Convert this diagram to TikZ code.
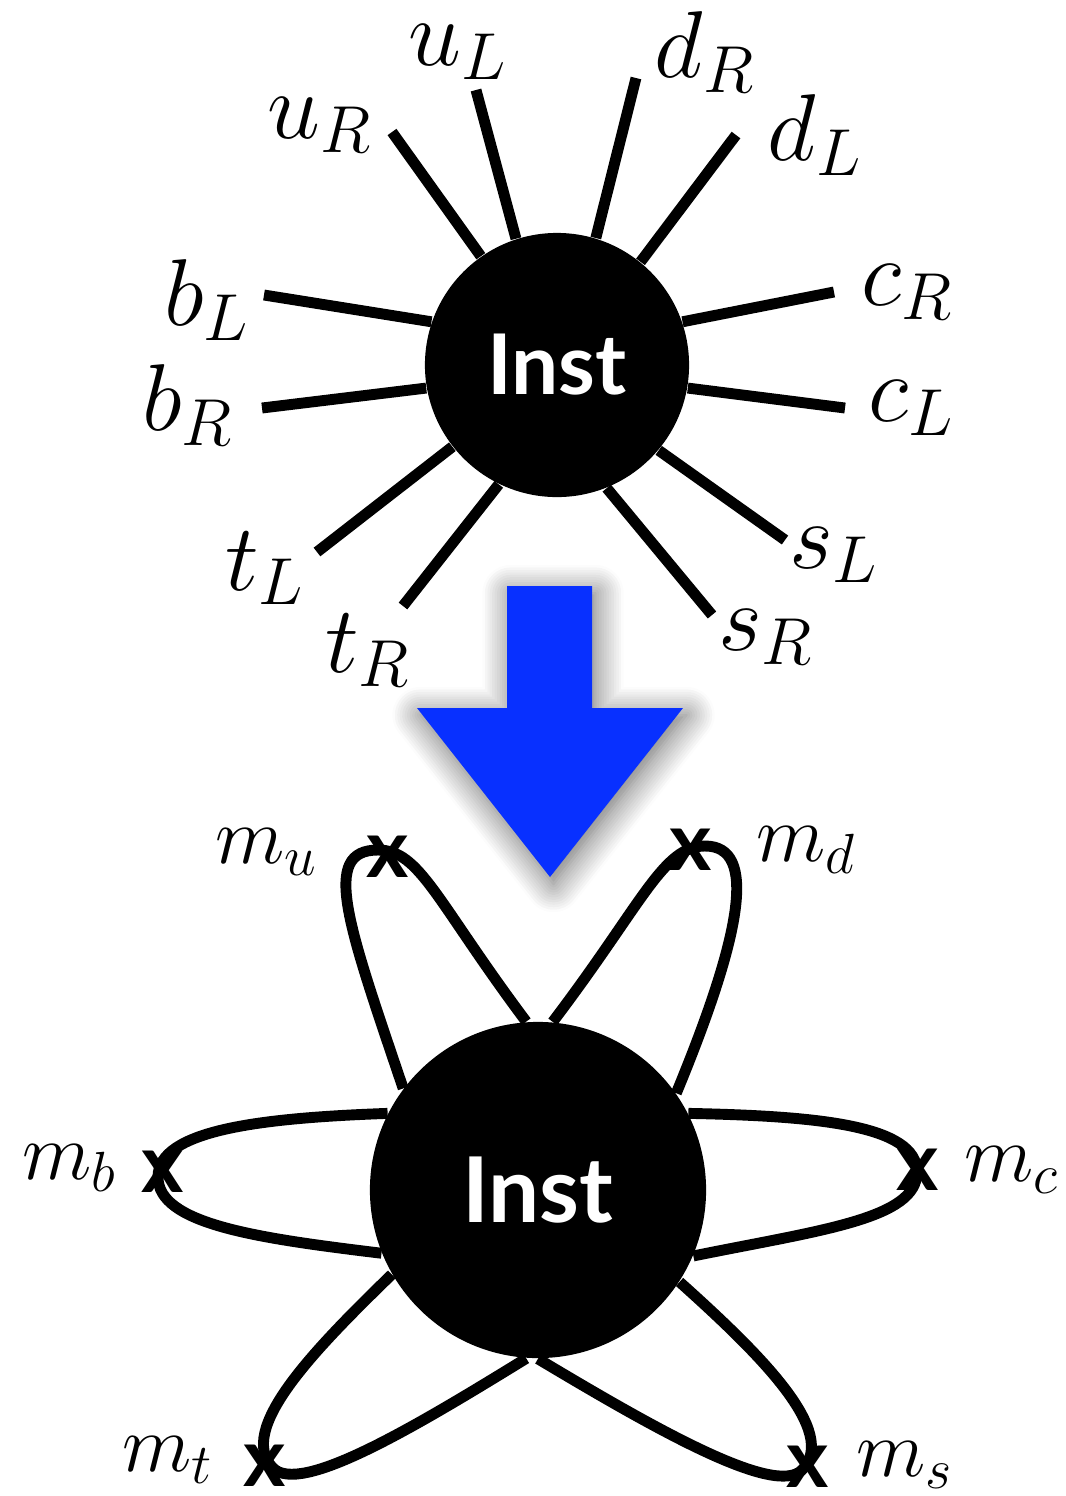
\RequirePackage{fix-cm}
\documentclass[tikz,border=0pt]{standalone}
\usepackage{fontspec}
\newfontfamily\instfont{Lato}
\usetikzlibrary{shadows.blur}
\definecolor{arrowblue}{RGB}{8,48,255}
\tikzset{
  leg/.style={line width=3.1pt},
  loopline/.style={line width=3.1pt},
  blob/.style={circle, fill=black, inner sep=0pt, text=white},
  toplab/.style={inner sep=0pt, font=\fontsize{27}{32}\selectfont},
  mlab/.style={inner sep=0pt, font=\fontsize{23}{28}\selectfont},
  xmark/.style={inner sep=0pt, font=\instfont\bfseries\fontsize{23}{27}\selectfont},
}
\begin{document}
\begin{tikzpicture}[x=0.01cm,y=-0.01cm]
\useasboundingbox (0,0) rectangle (1066,1496);

% ---------- top instanton ----------
\node[blob, minimum size=2.64cm, font=\instfont\bfseries\fontsize{23.8}{28}\selectfont] (top) at (557,365) {Inst};

\coordinate (uRo) at (392,132);
\coordinate (uLo) at (476,90);
\coordinate (dRo) at (636,78);
\coordinate (dLo) at (736,135);
\coordinate (cRo) at (834,292);
\coordinate (cLo) at (845,408);
\coordinate (sLo) at (785,540);
\coordinate (sRo) at (712,615);
\coordinate (tRo) at (403,606);
\coordinate (tLo) at (317,552);
\coordinate (bRo) at (262,408);
\coordinate (bLo) at (264,295);

\draw[leg] (top.125.7) -- (uRo);
\draw[leg] (top.108.6) -- (uLo);
\draw[leg] (top.73.9) -- (dRo);
\draw[leg] (top.51.1) -- (dLo);
\draw[leg] (top.19.3) -- (cRo);
\draw[leg] (top.-10.8) -- (cLo);
\draw[leg] (top.-40) -- (sLo);
\draw[leg] (top.-68.2) -- (sRo);
\draw[leg] (top.244) -- (tRo);
\draw[leg] (top.218.8) -- (tLo);
\draw[leg] (top.190.1) -- (bRo);
\draw[leg] (top.161) -- (bLo);

\node[toplab] (luL) at (458,52) {$u_L$};
\node[toplab] (ldR) at (705,52) {$d_R$};
\node[toplab] (luR) at (320,125) {$u_R$};
\node[toplab] (ldL) at (815,135) {$d_L$};
\node[toplab] (lbL) at (207,300) {$b_L$};
\node[toplab] (lcR) at (907,292) {$c_R$};
\node[toplab] (lbR) at (188,405) {$b_R$};
\node[toplab] (lcL) at (912,408) {$c_L$};
\node[toplab] (ltL) at (265,568) {$t_L$};
\node[toplab] (lsL) at (834,555) {$s_L$};
\node[toplab] (ltR) at (368,650) {$t_R$};
\node[toplab] (lsR) at (766,637) {$s_R$};

% ---------- blue arrow ----------
\fill[arrowblue, blur shadow={shadow xshift=1pt, shadow yshift=-2pt, shadow blur radius=8pt, shadow blur steps=12, shadow opacity=60}]
  (507,586) -- (592,586) -- (592,708) -- (683,708) -- (550,877) -- (417,708) -- (507,708) -- cycle;

% ---------- bottom instanton ----------
\node[blob, minimum size=3.36cm, font=\instfont\bfseries\fontsize{25.8}{30}\selectfont] (bot) at (538,1190) {Inst};

\draw[loopline] (bot.94.4) .. controls (436,901) and (420,850) .. (378,850)
                .. controls (320,850) and (348,925) .. (bot.143.9);
\draw[loopline] (bot.85.2) .. controls (643,903) and (663,846) .. (705,846)
                .. controls (758,846) and (742,934) .. (bot.35.2);
\draw[loopline] (bot.153.1) .. controls (260,1118) and (158,1130) .. (158,1177)
                .. controls (158,1224) and (256,1238) .. (bot.202.4);
\draw[loopline] (bot.27.3) .. controls (817,1116) and (917,1125) .. (917,1172)
                .. controls (917,1219) and (821,1230) .. (bot.337.9);
\draw[loopline] (bot.210.4) .. controls (313,1351) and (236,1430) .. (273,1468)
                .. controls (300,1495) and (410,1430) .. (bot.266.2);
\draw[loopline] (bot.327.6) .. controls (761,1355) and (839,1432) .. (802,1470)
                .. controls (775,1497) and (657,1430) .. (bot.270.7);

\node[xmark] (xu) at (388,857) {x};
\node[xmark] (xd) at (691,850) {x};
\node[xmark] (xb) at (163,1172) {x};
\node[xmark] (xc) at (918,1170) {x};
\node[xmark] (xt) at (265,1466) {x};
\node[xmark] (xs) at (808,1467) {x};

\node[mlab] (lmu) at (267,852) {$m_u$};
\node[mlab] (lmd) at (806,850) {$m_d$};
\node[mlab] (lmb) at (70,1168) {$m_b$};
\node[mlab] (lmc) at (1012,1170) {$m_c$};
\node[mlab] (lmt) at (168,1460) {$m_t$};
\node[mlab] (lms) at (905,1465) {$m_s$};
\end{tikzpicture}
\end{document}
